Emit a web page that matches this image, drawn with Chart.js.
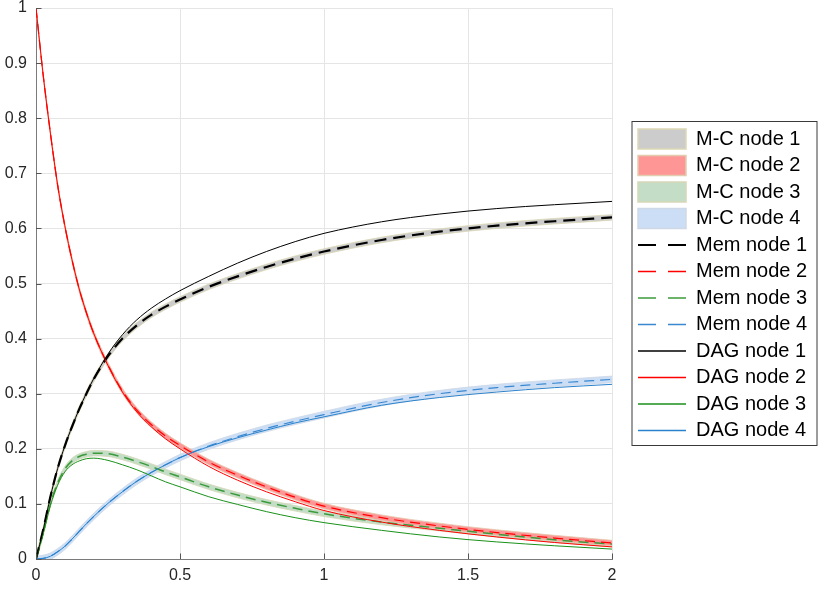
<!DOCTYPE html>
<html><head><meta charset="utf-8">
<script src="https://cdn.jsdelivr.net/npm/chart.js@4.4.0/dist/chart.umd.min.js"></script>
<style>html,body{margin:0;padding:0;background:#fff;}canvas{display:block;}</style>
</head><body>
<canvas id="c" width="822" height="589"></canvas>
<script>
const times     = [0, 0.025, 0.05, 0.075, 0.1, 0.125, 0.15, 0.175, 0.2, 0.25, 0.3, 0.35, 0.4, 0.45, 0.5, 0.6, 0.7, 0.8, 0.9, 1.0, 1.2, 1.4, 1.6, 1.8, 2.0];
const memNode1  = [0, 0.053, 0.113, 0.164, 0.205, 0.240, 0.272, 0.300, 0.326, 0.368, 0.400, 0.424, 0.443, 0.458, 0.471, 0.494, 0.513, 0.530, 0.545, 0.558, 0.579, 0.594, 0.605, 0.613, 0.620];
const memNode2  = [1.0, 0.878, 0.773, 0.679, 0.605, 0.543, 0.490, 0.447, 0.410, 0.352, 0.305, 0.270, 0.244, 0.223, 0.206, 0.176, 0.152, 0.131, 0.112, 0.096, 0.075, 0.060, 0.048, 0.038, 0.029];
const memNode3  = [0, 0.047, 0.100, 0.138, 0.163, 0.178, 0.186, 0.190, 0.192, 0.191, 0.185, 0.177, 0.168, 0.158, 0.149, 0.131, 0.116, 0.103, 0.092, 0.082, 0.067, 0.056, 0.045, 0.035, 0.027];
const memNode4  = [0, 0.001, 0.005, 0.013, 0.023, 0.036, 0.050, 0.064, 0.077, 0.101, 0.122, 0.141, 0.157, 0.171, 0.184, 0.205, 0.222, 0.237, 0.250, 0.262, 0.284, 0.300, 0.311, 0.319, 0.326];
const dagNode1  = [0, 0.053, 0.113, 0.164, 0.205, 0.240, 0.272, 0.301, 0.327, 0.372, 0.407, 0.434, 0.455, 0.472, 0.487, 0.513, 0.537, 0.558, 0.576, 0.591, 0.612, 0.626, 0.636, 0.643, 0.649];
const dagNode2  = [1.0, 0.878, 0.773, 0.679, 0.605, 0.543, 0.490, 0.447, 0.410, 0.351, 0.303, 0.267, 0.240, 0.218, 0.200, 0.168, 0.143, 0.122, 0.104, 0.088, 0.067, 0.052, 0.040, 0.030, 0.022];
const dagNode3  = [0, 0.046, 0.097, 0.134, 0.158, 0.171, 0.178, 0.182, 0.183, 0.179, 0.171, 0.162, 0.151, 0.140, 0.131, 0.113, 0.099, 0.086, 0.075, 0.066, 0.052, 0.040, 0.031, 0.024, 0.018];
const dagNode4  = [0, 0.001, 0.005, 0.013, 0.023, 0.036, 0.050, 0.064, 0.077, 0.101, 0.122, 0.141, 0.157, 0.171, 0.184, 0.204, 0.220, 0.234, 0.247, 0.258, 0.279, 0.293, 0.303, 0.311, 0.317];
const mcSpread  = [0.005, 0.005, 0.005, 0.006];
const xTickValues = [0, 0.5, 1, 1.5, 2];
const xTickLabels = ['0', '0.5', '1', '1.5', '2'];
const yTickValues = [0, 0.1, 0.2, 0.3, 0.4, 0.5, 0.6, 0.7, 0.8, 0.9, 1];
const yTickLabels = ['0', '0.1', '0.2', '0.3', '0.4', '0.5', '0.6', '0.7', '0.8', '0.9', '1'];
const mcLabels  = ['M-C node 1', 'M-C node 2', 'M-C node 3', 'M-C node 4'];
const memLabels = ['Mem node 1', 'Mem node 2', 'Mem node 3', 'Mem node 4'];
const dagLabels = ['DAG node 1', 'DAG node 2', 'DAG node 3', 'DAG node 4'];

const memSeries = [memNode1, memNode2, memNode3, memNode4];
const dagSeries = [dagNode1, dagNode2, dagNode3, dagNode4];

const bandFill  = ['#cccccc', '#ff9696', '#c3ddc6', '#cbdef5'];
const bandEdge  = ['#dcd8b4', '#e2ccb0', '#d6d8b6', '#cfd8e6'];
const memColor  = ['#000000', '#ff0000', '#3c9a3c', '#3a88d0'];
const memWidth  = [2.2, 1.2, 1.5, 1.2];
const memDash   = [[12, 7], [10, 6], [10, 6], [10, 6]];
const dagColor  = ['#000000', '#ff0000', '#1a911a', '#2a82cc'];

const pts = (arr, off) => times.map((t, i) => ({x: t, y: arr[i] + (off || 0)}));

const datasets = [];
for (let k = 0; k < 4; k++) {
  datasets.push({label: mcLabels[k] + ' lo', data: pts(memSeries[k], -mcSpread[k]), borderColor: bandEdge[k], borderWidth: 0.8, fill: false, order: 3});
  datasets.push({label: mcLabels[k], data: pts(memSeries[k], mcSpread[k]), borderColor: bandEdge[k], borderWidth: 0.8, backgroundColor: bandFill[k], fill: '-1', order: 3});
}
for (let k = 0; k < 4; k++) {
  datasets.push({label: memLabels[k], data: pts(memSeries[k]), borderColor: memColor[k], borderWidth: memWidth[k], borderDash: memDash[k], fill: false, order: 2});
}
for (let k = 0; k < 4; k++) {
  datasets.push({label: dagLabels[k], data: pts(dagSeries[k]), borderColor: dagColor[k], borderWidth: 1, fill: false, order: 1});
}

const legendItems = [];
for (let k = 0; k < 4; k++) legendItems.push({text: mcLabels[k], fillStyle: bandFill[k], strokeStyle: bandEdge[k], lineWidth: 1.5, pointStyle: 'rect', datasetIndex: 2 * k + 1});
for (let k = 0; k < 4; k++) legendItems.push({text: memLabels[k], fillStyle: 'rgba(0,0,0,0)', strokeStyle: memColor[k], lineWidth: Math.max(memWidth[k], 1.4), lineDash: [18, 12], pointStyle: 'line', datasetIndex: 8 + k});
for (let k = 0; k < 4; k++) legendItems.push({text: dagLabels[k], fillStyle: 'rgba(0,0,0,0)', strokeStyle: dagColor[k], lineWidth: 1.4, pointStyle: 'line', datasetIndex: 12 + k});

const FONT = 'Liberation Sans, Arial, Helvetica, sans-serif';

const legendPlacer = {
  id: 'legendPlacer',
  afterLayout(chart) {
    const lg = chart.legend;
    if (!lg) return;
    const w = lg.width;
    lg.left = 631.5; lg.right = lg.left + w;
    lg.top = 122.5; lg.bottom = 520; lg.height = lg.bottom - lg.top;
  },
  afterDraw(chart) {
    const ctx = chart.ctx;
    ctx.save();
    ctx.strokeStyle = '#3a3a3a';
    ctx.lineWidth = 1;
    ctx.strokeRect(632, 121.5, 185, 324);
    ctx.restore();
  }
};

// MATLAB-style inward tick marks along the two axes
const innerTicks = {
  id: 'innerTicks',
  afterDatasetsDraw(chart) {
    const {ctx, chartArea: a, scales: {x, y}} = chart;
    ctx.save();
    ctx.strokeStyle = '#555';
    ctx.lineWidth = 1;
    ctx.beginPath();
    x.ticks.forEach(t => { const px = Math.round(x.getPixelForValue(t.value)) + 0.5; ctx.moveTo(px, a.bottom); ctx.lineTo(px, a.bottom - 5.5); });
    y.ticks.forEach(t => { const py = Math.round(y.getPixelForValue(t.value)) + 0.5; ctx.moveTo(a.left, py); ctx.lineTo(a.left + 5.5, py); });
    ctx.stroke();
    ctx.restore();
  }
};

new Chart(document.getElementById('c'), {
  type: 'line',
  data: {datasets},
  plugins: [legendPlacer, innerTicks],
  options: {
    responsive: false,
    animation: false,
    devicePixelRatio: 1,
    layout: {padding: {left: 0, top: 8, right: 34, bottom: 0}},
    elements: {point: {radius: 0}, line: {cubicInterpolationMode: 'monotone'}},
    plugins: {
      tooltip: {enabled: false},
      legend: {
        position: 'right',
        align: 'start',
        maxWidth: 176,
        labels: {
          usePointStyle: true,
          pointStyleWidth: 48,
          boxWidth: 48,
          boxHeight: 20,
          padding: 6.5,
          color: '#000',
          font: {family: FONT, size: 20},
          generateLabels: () => legendItems.map(it => Object.assign({hidden: false}, it))
        }
      }
    },
    scales: {
      x: {
        type: 'linear', min: 0, max: 2,
        afterBuildTicks: s => { s.ticks = xTickValues.map(v => ({value: v})); },
        afterFit: s => { s.height = 30; s.paddingLeft = 0; s.paddingRight = 0; },
        grid: {color: '#e5e5e5', lineWidth: 1, drawTicks: false},
        border: {display: true, color: '#7a7a7a', width: 1},
        ticks: {color: '#262626', padding: 9, maxRotation: 0, autoSkip: false,
          font: {family: FONT, size: 16, lineHeight: 1},
          callback: (v, i) => xTickLabels[i]}
      },
      y: {
        type: 'linear', min: 0, max: 1,
        afterBuildTicks: s => { s.ticks = yTickValues.map(v => ({value: v})); },
        afterFit: s => { s.width = 36; s.paddingTop = 0; s.paddingBottom = 0; },
        grid: {color: '#e5e5e5', lineWidth: 1, drawTicks: false},
        border: {display: true, color: '#7a7a7a', width: 1},
        ticks: {color: '#262626', padding: 9, autoSkip: false,
          font: {family: FONT, size: 16, lineHeight: 1},
          callback: (v, i) => yTickLabels[i]}
      }
    }
  }
});
</script>
</body></html>
